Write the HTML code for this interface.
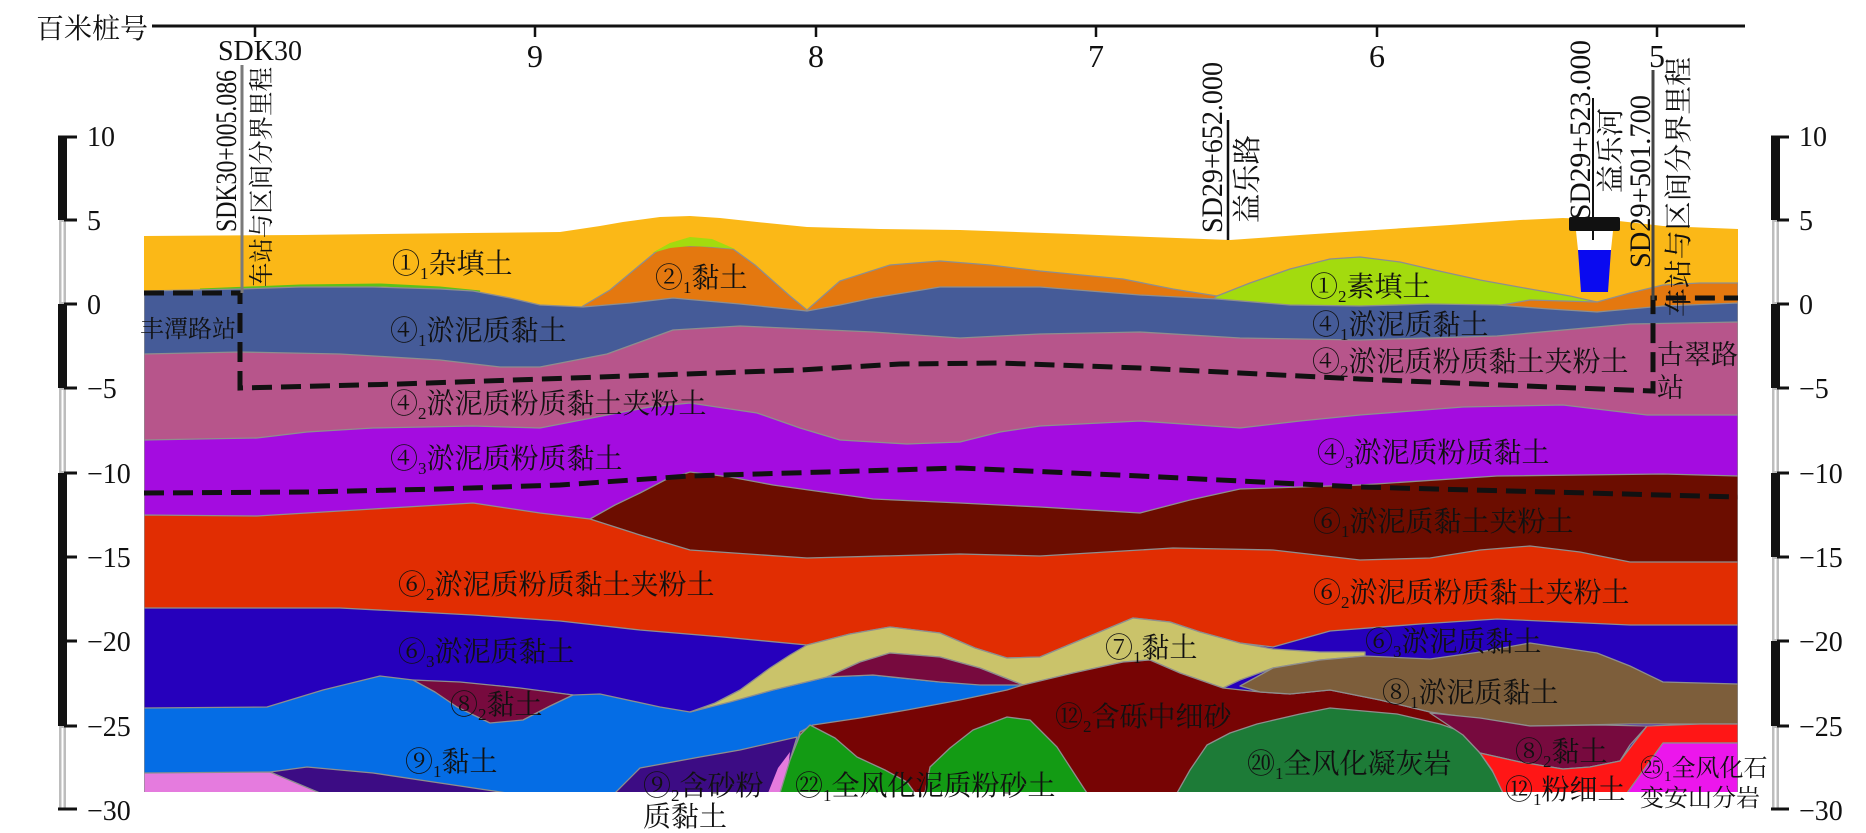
<!DOCTYPE html>
<html><head><meta charset="utf-8">
<style>
html,body{margin:0;padding:0;background:#fff;width:1866px;height:833px;overflow:hidden}
svg{display:block}
.c{font-family:"Liberation Serif","Noto Serif CJK SC",serif;fill:#111}
.l{font-size:28px}
.s{font-size:17px}
.n{font-family:"Liberation Serif",serif;fill:#111}
.b{stroke:#8e8e8e;stroke-width:1.3;stroke-linejoin:round}
</style></head><body>
<svg width="1866" height="833" viewBox="0 0 1866 833" xmlns="http://www.w3.org/2000/svg">
<defs><clipPath id="cp"><rect x="144" y="200" width="1594" height="592"/></clipPath></defs>

<!-- top hundred-metre axis -->
<text class="c" x="36" y="38" font-size="28">百米桩号</text>
<line x1="152" y1="26" x2="1745" y2="26" stroke="#111" stroke-width="3"/>
<g stroke="#111" stroke-width="2.5">
<line x1="255" y1="26" x2="255" y2="37"/><line x1="535" y1="26" x2="535" y2="37"/>
<line x1="816" y1="26" x2="816" y2="37"/><line x1="1096" y1="26" x2="1096" y2="37"/>
<line x1="1377" y1="26" x2="1377" y2="37"/><line x1="1657" y1="26" x2="1657" y2="37"/>
</g>
<text class="n" x="260" y="60" font-size="28" text-anchor="middle">SDK30</text>
<g class="n" font-size="32" text-anchor="middle">
<text x="535" y="67">9</text><text x="816" y="67">8</text><text x="1096" y="67">7</text>
<text x="1377" y="67">6</text><text x="1657" y="67">5</text>
</g>

<!-- strata -->
<g clip-path="url(#cp)">
<polygon fill="#FBB817" points="144,236 300,235 470,233 560,232 600,226 623,222 660,217 690,216 720,218 757,222 807,227 880,229 960,230 1073,234 1150,237 1230,240 1300,235 1360,231 1450,225 1520,220 1563,218 1610,220 1663,226 1738,229 1738,793 144,793"/>
<polygon fill="#E4780F" class="b" points="575,314 583,306 610,290 640,265 657,251 675,246 700,246 733,249 755,265 773,281 790,296 807,310 815,318 700,318 600,318"/>
<polygon fill="#A3DB0E" points="652,253 670,243 690,237 712,239 735,249 712,247 690,246 670,248"/>
<polygon fill="#E4780F" class="b" points="800,318 807,310 840,281 890,265 940,261 990,265 1040,271 1123,279 1173,289 1217,296 1230,308 1100,308 900,308"/>
<polygon fill="#A3DB0E" class="b" points="1210,302 1217,296 1250,283 1290,269 1330,259 1360,257 1400,262 1430,269 1480,280 1530,289 1570,296 1597,302 1560,312 1450,312 1300,312"/>
<polygon fill="#E4780F" class="b" points="1490,307 1530,300 1597,302 1630,293 1663,285 1700,283 1738,283 1738,318 1600,320 1497,312"/>
<polyline fill="none" stroke="#5cc21a" stroke-width="3" points="200,290 300,286 380,285 440,288 480,292"/>

<polygon fill="#455B98" class="b" points="144,291 240,289 300,287 373,287 440,289 473,291 510,298 540,305 583,307 630,303 673,298 740,304 807,311 840,305 873,298 940,287 1040,287 1140,295 1217,299 1290,305 1360,306 1430,304 1497,305 1550,309 1597,312 1663,306 1738,303 1738,793 144,793"/>
<polygon fill="#B7558B" class="b" points="144,354 240,352 340,354 440,360 500,367 540,367 607,354 640,342 673,330 740,326 873,332 960,338 1040,334 1140,332 1240,338 1360,340 1497,336 1630,324 1738,322 1738,793 144,793"/>
<polygon fill="#A40CE0" class="b" points="144,440 257,438 307,432 373,428 473,426 540,428 607,415 650,407 690,403 757,413 800,428 840,440 907,444 960,442 1000,432 1040,426 1140,421 1240,428 1300,421 1360,415 1463,407 1563,405 1647,415 1738,415 1738,793 144,793"/>
<polygon fill="#6C0D00" class="b" points="590,519 615,505 640,493 665,480 690,472 730,477 773,485 873,499 960,503 1040,507 1140,513 1190,500 1240,489 1360,485 1497,476 1663,474 1738,476 1738,793 590,793"/>
<polygon fill="#E12D02" class="b" points="144,515 257,516 373,509 473,503 540,513 590,519 640,535 690,550 807,558 960,554 1040,556 1173,548 1273,550 1360,560 1430,558 1480,550 1530,546 1580,552 1630,562 1738,562 1738,793 144,793"/>
<polygon fill="#2600BC" class="b" points="144,608 340,608 473,615 560,621 640,630 723,637 807,645 850,634 890,627 940,633 975,648 1007,658 1040,657 1090,636 1133,618 1170,622 1200,632 1240,643 1273,647 1330,631 1420,624 1497,619 1630,625 1738,625 1738,793 144,793"/>
<polygon fill="#056DE5" class="b" points="144,708 267,707 323,690 380,676 413,680 500,686 573,695 600,694 660,707 690,712 773,690 827,677 873,675 940,682 1023,685 1030,700 1030,793 144,793"/>
<polygon fill="#770A3E" class="b" points="413,680 460,682 520,688 573,695 550,706 523,720 490,723 457,707 435,692"/>
<polygon fill="#E57BDE" class="b" points="144,773 270,772 300,780 322,793 144,793"/>
<polygon fill="#3C0C84" class="b" points="270,772 307,767 373,773 440,783 507,793 320,793"/>
<polygon fill="#3C0C84" class="b" points="615,793 640,768 700,757 740,750 797,737 790,760 782,793"/>
<polygon fill="#E57BDE" points="768,793 778,768 790,752 785,793"/>
<polygon fill="#CAC36A" class="b" points="690,712 715,703 740,690 770,668 790,655 807,645 850,634 890,627 940,633 975,648 1007,658 1040,657 1090,636 1133,618 1170,622 1200,632 1240,643 1273,649 1320,652 1365,652 1365,656 1320,660 1273,668 1240,680 1223,688 1180,673 1150,660 1123,662 1073,673 1023,685 980,668 940,657 890,653 860,662 827,677 773,690 730,702"/>
<polygon fill="#770A3E" class="b" points="827,677 860,662 890,653 940,657 980,668 1023,685 980,685 940,682 873,675"/>
<polygon fill="#770404" class="b" points="800,732 813,725 860,718 907,710 960,700 1007,690 1023,685 1073,673 1123,662 1150,660 1180,673 1223,688 1260,692 1290,694 1330,690 1380,700 1430,712 1460,730 1470,745 1470,793 782,793"/>
<polygon fill="#139B14" class="b" points="780,793 790,760 800,735 810,725 835,738 857,757 885,770 907,782 915,793"/>
<polygon fill="#139B14" class="b" points="925,793 930,767 950,748 973,730 1007,717 1030,720 1057,747 1070,767 1083,787 1087,793"/>
<polygon fill="#1D7B37" class="b" points="1177,793 1190,770 1207,745 1230,733 1257,724 1300,714 1330,708 1397,714 1440,724 1463,732 1480,753 1495,775 1503,793"/>
<polygon fill="#7D5E3B" class="b" points="1240,686 1273,668 1320,660 1365,656 1430,659 1480,652 1530,643 1597,653 1630,666 1663,682 1738,684 1738,724 1630,724 1530,726 1430,712 1380,700 1330,690 1290,694 1260,692"/>
<polygon fill="#770A3E" class="b" points="1430,713 1480,718 1530,726 1600,725 1647,726 1630,745 1620,761 1590,767 1563,769 1520,762 1480,753 1463,735"/>
<polygon fill="#FF1616" class="b" points="1480,753 1520,762 1563,769 1590,767 1620,761 1647,726 1700,724 1738,724 1738,743 1663,743 1645,770 1627,793 1503,793 1492,770"/>
<polygon fill="#EC16EC" class="b" points="1663,743 1738,743 1738,793 1627,793 1645,768"/>

<!-- dashed tunnel / station lines -->
<g fill="none" stroke="#111" stroke-width="5" stroke-dasharray="20 9">
<polyline points="144,293 240,293 240,388 400,384 600,377 800,370 900,364 1000,363 1140,368 1360,379 1500,385 1653,391 1653,298 1738,298"/>
<polyline points="144,493 307,492 440,489 560,485 690,476 960,468 1140,476 1360,487 1738,497"/>
</g>
</g>

<!-- bridge / river -->
<rect x="1569" y="217" width="51" height="14" rx="2" fill="#111"/>
<polygon points="1576,231 1613,231 1611,250 1578,250" fill="#fff"/>
<polygon points="1578,250 1611,250 1608,292 1581,292" fill="#0A0AF0"/>

<!-- vertical annotation lines -->
<line x1="242" y1="65" x2="242" y2="293" stroke="#7a7a7a" stroke-width="3"/>
<line x1="1228" y1="120" x2="1228" y2="240" stroke="#111" stroke-width="2.5"/>
<line x1="1593" y1="98" x2="1593" y2="240" stroke="#111" stroke-width="2"/>
<line x1="1653" y1="70" x2="1653" y2="300" stroke="#444" stroke-width="3"/>

<!-- rotated annotation text -->
<text class="n" font-size="30" transform="translate(236,232) rotate(-90)" textLength="162" lengthAdjust="spacingAndGlyphs">SDK30+005.086</text>
<text class="c" font-size="25" transform="translate(270,287) rotate(-90)" textLength="220" lengthAdjust="spacingAndGlyphs">车站与区间分界里程</text>
<text class="n" font-size="30" transform="translate(1222,233) rotate(-90)" textLength="171" lengthAdjust="spacingAndGlyphs">SD29+652.000</text>
<text class="c" font-size="29" transform="translate(1257,223) rotate(-90)" textLength="88" lengthAdjust="spacingAndGlyphs">益乐路</text>
<text class="n" font-size="30" transform="translate(1590,220) rotate(-90)" textLength="180" lengthAdjust="spacingAndGlyphs">SD29+523.000</text>
<text class="c" font-size="28" transform="translate(1620,193) rotate(-90)" textLength="85" lengthAdjust="spacingAndGlyphs">益乐河</text>
<text class="n" font-size="30" transform="translate(1650,268) rotate(-90)" textLength="173" lengthAdjust="spacingAndGlyphs">SD29+501.700</text>
<text class="c" font-size="28" transform="translate(1688,317) rotate(-90)" textLength="260" lengthAdjust="spacingAndGlyphs">车站与区间分界里程</text>

<!-- stratum labels -->
<g class="c l">
<text x="392" y="273">①<tspan class="s" dy="6">1</tspan><tspan dy="-6">杂填土</tspan></text>
<text x="655" y="287">②<tspan class="s" dy="6">1</tspan><tspan dy="-6">黏土</tspan></text>
<text x="1310" y="296">①<tspan class="s" dy="6">2</tspan><tspan dy="-6">素填土</tspan></text>
<text x="390" y="340">④<tspan class="s" dy="6">1</tspan><tspan dy="-6">淤泥质黏土</tspan></text>
<text x="1312" y="334">④<tspan class="s" dy="6">1</tspan><tspan dy="-6">淤泥质黏土</tspan></text>
<text x="390" y="413">④<tspan class="s" dy="6">2</tspan><tspan dy="-6">淤泥质粉质黏土夹粉土</tspan></text>
<text x="1312" y="371">④<tspan class="s" dy="6">2</tspan><tspan dy="-6">淤泥质粉质黏土夹粉土</tspan></text>
<text x="390" y="468">④<tspan class="s" dy="6">3</tspan><tspan dy="-6">淤泥质粉质黏土</tspan></text>
<text x="1317" y="462">④<tspan class="s" dy="6">3</tspan><tspan dy="-6">淤泥质粉质黏土</tspan></text>
<text x="1313" y="531">⑥<tspan class="s" dy="6">1</tspan><tspan dy="-6">淤泥质黏土夹粉土</tspan></text>
<text x="398" y="594">⑥<tspan class="s" dy="6">2</tspan><tspan dy="-6">淤泥质粉质黏土夹粉土</tspan></text>
<text x="1313" y="602">⑥<tspan class="s" dy="6">2</tspan><tspan dy="-6">淤泥质粉质黏土夹粉土</tspan></text>
<text x="398" y="661">⑥<tspan class="s" dy="6">3</tspan><tspan dy="-6">淤泥质黏土</tspan></text>
<text x="1365" y="651">⑥<tspan class="s" dy="6">3</tspan><tspan dy="-6">淤泥质黏土</tspan></text>
<text x="1105" y="657">⑦<tspan class="s" dy="6">1</tspan><tspan dy="-6">黏土</tspan></text>
<text x="450" y="714">⑧<tspan class="s" dy="6">2</tspan><tspan dy="-6">黏土</tspan></text>
<text x="1382" y="702">⑧<tspan class="s" dy="6">1</tspan><tspan dy="-6">淤泥质黏土</tspan></text>
<text x="1055" y="726">⑫<tspan class="s" dy="6">2</tspan><tspan dy="-6">含砾中细砂</tspan></text>
<text x="405" y="771">⑨<tspan class="s" dy="6">1</tspan><tspan dy="-6">黏土</tspan></text>
<text x="643" y="795">⑨<tspan class="s" dy="6">2</tspan><tspan dy="-6">含砂粉</tspan></text>
<text x="643" y="826">质黏土</text>
<text x="795" y="795">㉒<tspan class="s" dy="6">1</tspan><tspan dy="-6">全风化泥质粉砂土</tspan></text>
<text x="1247" y="773">⑳<tspan class="s" dy="6">1</tspan><tspan dy="-6">全风化凝灰岩</tspan></text>
<text x="1515" y="761">⑧<tspan class="s" dy="6">2</tspan><tspan dy="-6">黏土</tspan></text>
<text x="1505" y="799">⑫<tspan class="s" dy="6">1</tspan><tspan dy="-6">粉细土</tspan></text>
</g>
<g class="c" font-size="24">
<text x="1640" y="776">㉕<tspan font-size="15" dy="5">1</tspan><tspan dy="-5">全风化石</tspan></text>
<text x="1640" y="806">变安山分岩</text>
<text x="140" y="337">丰潭路站</text>
</g>
<g class="c" font-size="27">
<text x="1657" y="364">古翠路</text>
<text x="1657" y="397">站</text>
</g>

<!-- left elevation scale bar -->
<g>
<rect x="58" y="136" width="9" height="84" fill="#111"/>
<rect x="59" y="220" width="7" height="84" fill="#bdbdbd"/><line x1="62.5" y1="222" x2="62.5" y2="302" stroke="#fff" stroke-width="2"/>
<rect x="58" y="304" width="9" height="84" fill="#111"/>
<rect x="59" y="388" width="7" height="85" fill="#bdbdbd"/><line x1="62.5" y1="390" x2="62.5" y2="471" stroke="#fff" stroke-width="2"/>
<rect x="58" y="473" width="9" height="253" fill="#111"/>
<rect x="59" y="726" width="7" height="84" fill="#bdbdbd"/><line x1="62.5" y1="728" x2="62.5" y2="808" stroke="#fff" stroke-width="2"/>
<g stroke="#111" stroke-width="3">
<line x1="58" y1="137" x2="77" y2="137"/><line x1="58" y1="809" x2="77" y2="809"/>
<line x1="64" y1="220" x2="77" y2="220"/><line x1="64" y1="304" x2="77" y2="304"/>
<line x1="64" y1="388" x2="77" y2="388"/><line x1="64" y1="473" x2="77" y2="473"/>
<line x1="64" y1="557" x2="77" y2="557"/><line x1="64" y1="641" x2="77" y2="641"/>
<line x1="64" y1="726" x2="77" y2="726"/>
</g>
</g>
<g class="n" font-size="28">
<text x="87" y="146">10</text><text x="87" y="230">5</text><text x="87" y="314">0</text>
<text x="87" y="398">−5</text><text x="87" y="483">−10</text><text x="87" y="567">−15</text>
<text x="87" y="651">−20</text><text x="87" y="736">−25</text><text x="87" y="820">−30</text>
</g>

<!-- right elevation scale bar -->
<g>
<rect x="1771" y="136" width="9" height="84" fill="#111"/>
<rect x="1772" y="220" width="7" height="84" fill="#bdbdbd"/><line x1="1775.5" y1="222" x2="1775.5" y2="302" stroke="#fff" stroke-width="2"/>
<rect x="1771" y="304" width="9" height="84" fill="#111"/>
<rect x="1772" y="388" width="7" height="85" fill="#bdbdbd"/><line x1="1775.5" y1="390" x2="1775.5" y2="471" stroke="#fff" stroke-width="2"/>
<rect x="1771" y="473" width="9" height="84" fill="#111"/>
<rect x="1772" y="557" width="7" height="84" fill="#bdbdbd"/><line x1="1775.5" y1="559" x2="1775.5" y2="639" stroke="#fff" stroke-width="2"/>
<rect x="1771" y="641" width="9" height="85" fill="#111"/>
<rect x="1772" y="726" width="7" height="84" fill="#bdbdbd"/><line x1="1775.5" y1="728" x2="1775.5" y2="808" stroke="#fff" stroke-width="2"/>
<g stroke="#111" stroke-width="3">
<line x1="1771" y1="137" x2="1789" y2="137"/><line x1="1771" y1="809" x2="1789" y2="809"/>
<line x1="1777" y1="220" x2="1789" y2="220"/><line x1="1777" y1="304" x2="1789" y2="304"/>
<line x1="1777" y1="388" x2="1789" y2="388"/><line x1="1777" y1="473" x2="1789" y2="473"/>
<line x1="1777" y1="557" x2="1789" y2="557"/><line x1="1777" y1="641" x2="1789" y2="641"/>
<line x1="1777" y1="726" x2="1789" y2="726"/>
</g>
</g>
<g class="n" font-size="28">
<text x="1799" y="146">10</text><text x="1799" y="230">5</text><text x="1799" y="314">0</text>
<text x="1799" y="398">−5</text><text x="1799" y="483">−10</text><text x="1799" y="567">−15</text>
<text x="1799" y="651">−20</text><text x="1799" y="736">−25</text><text x="1799" y="820">−30</text>
</g>
</svg>
</body></html>
